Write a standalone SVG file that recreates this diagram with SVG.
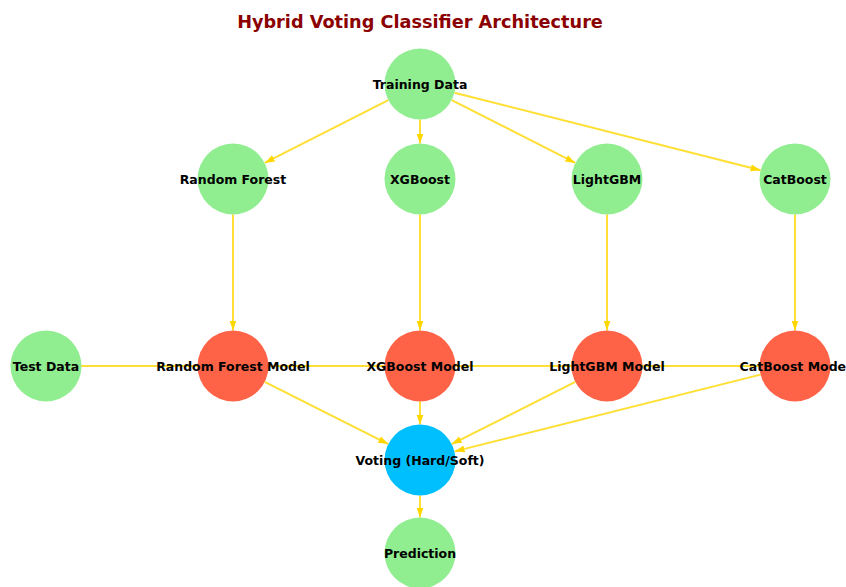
<svg xmlns="http://www.w3.org/2000/svg" width="846" height="587" viewBox="0 0 846 587">
  <style>
    .edge { stroke: #FFD700; stroke-opacity: 0.8; stroke-width: 2; fill: none; }
    .arrow { marker-end: url(#head); }
    .data { fill: #90EE90; }
    .model { fill: #FF6347; }
    .vote { fill: #00BFFF; }
    .label { font-family: "DejaVu Sans", sans-serif; font-weight: bold; font-size: 12.5px; fill: #000; text-anchor: middle; }
    .title { font-family: "DejaVu Sans", sans-serif; font-weight: bold; font-size: 17.7px; fill: #8B0000; text-anchor: middle; }
  </style>
  <defs>
    <marker id="head" markerUnits="userSpaceOnUse" markerWidth="10" markerHeight="8" viewBox="0 0 10 8" refX="10" refY="4" orient="auto">
      <path d="M0,0.5 L10,4 L0,7.5 z" fill="#FFD700"/>
    </marker>
  </defs>
  <rect width="846" height="587" fill="#fff"/>
  <text class="title" x="420" y="28">Hybrid Voting Classifier Architecture</text>

  <g id="connectors">
    <!-- test data feeds every model along the middle row -->
    <line class="edge" x1="81" y1="366" x2="795" y2="366"/>
    <!-- training data to base learners -->
    <line class="edge arrow" x1="388.3" y1="100.1" x2="264.7" y2="162.9"/>
    <line class="edge arrow" x1="420" y1="119.5" x2="420" y2="143.5"/>
    <line class="edge arrow" x1="451.7" y1="100.1" x2="575.3" y2="162.9"/>
    <line class="edge arrow" x1="454.4" y1="92.7" x2="760.6" y2="170.3"/>
    <!-- learners to fitted models -->
    <line class="edge arrow" x1="233" y1="214.5" x2="233" y2="330.5"/>
    <line class="edge arrow" x1="420" y1="214.5" x2="420" y2="330.5"/>
    <line class="edge arrow" x1="607" y1="214.5" x2="607" y2="330.5"/>
    <line class="edge arrow" x1="795" y1="214.5" x2="795" y2="330.5"/>
    <!-- models to voting -->
    <line class="edge arrow" x1="264.7" y1="381.9" x2="388.3" y2="444.1"/>
    <line class="edge arrow" x1="420" y1="401.5" x2="420" y2="424.5"/>
    <line class="edge arrow" x1="575.3" y1="381.9" x2="451.7" y2="444.1"/>
    <line class="edge arrow" x1="760.6" y1="374.6" x2="454.6" y2="451.4"/>
    <!-- voting to prediction -->
    <line class="edge arrow" x1="420" y1="495.5" x2="420" y2="517.5"/>
  </g>

  <g id="training-data"><circle class="data" cx="420" cy="84" r="35.5"/><text class="label" x="420" y="88.5">Training Data</text></g>
  <g id="random-forest"><circle class="data" cx="233" cy="179" r="35.5"/><text class="label" x="233" y="183.5">Random Forest</text></g>
  <g id="xgboost"><circle class="data" cx="420" cy="179" r="35.5"/><text class="label" x="420" y="183.5">XGBoost</text></g>
  <g id="lightgbm"><circle class="data" cx="607" cy="179" r="35.5"/><text class="label" x="607" y="183.5">LightGBM</text></g>
  <g id="catboost"><circle class="data" cx="795" cy="179" r="35.5"/><text class="label" x="795" y="183.5">CatBoost</text></g>

  <g id="test-data"><circle class="data" cx="46" cy="366" r="35.5"/><text class="label" x="46" y="370.5">Test Data</text></g>
  <g id="random-forest-model"><circle class="model" cx="233" cy="366" r="35.5"/><text class="label" x="233" y="370.5">Random Forest Model</text></g>
  <g id="xgboost-model"><circle class="model" cx="420" cy="366" r="35.5"/><text class="label" x="420" y="370.5">XGBoost Model</text></g>
  <g id="lightgbm-model"><circle class="model" cx="607" cy="366" r="35.5"/><text class="label" x="607" y="370.5">LightGBM Model</text></g>
  <g id="catboost-model"><circle class="model" cx="795" cy="366" r="35.5"/><text class="label" x="795" y="370.5">CatBoost Model</text></g>

  <g id="voting"><circle class="vote" cx="420" cy="460" r="35.5"/><text class="label" x="420" y="464.5">Voting (Hard/Soft)</text></g>
  <g id="prediction"><circle class="data" cx="420" cy="553" r="35.5"/><text class="label" x="420" y="557.5">Prediction</text></g>
</svg>
